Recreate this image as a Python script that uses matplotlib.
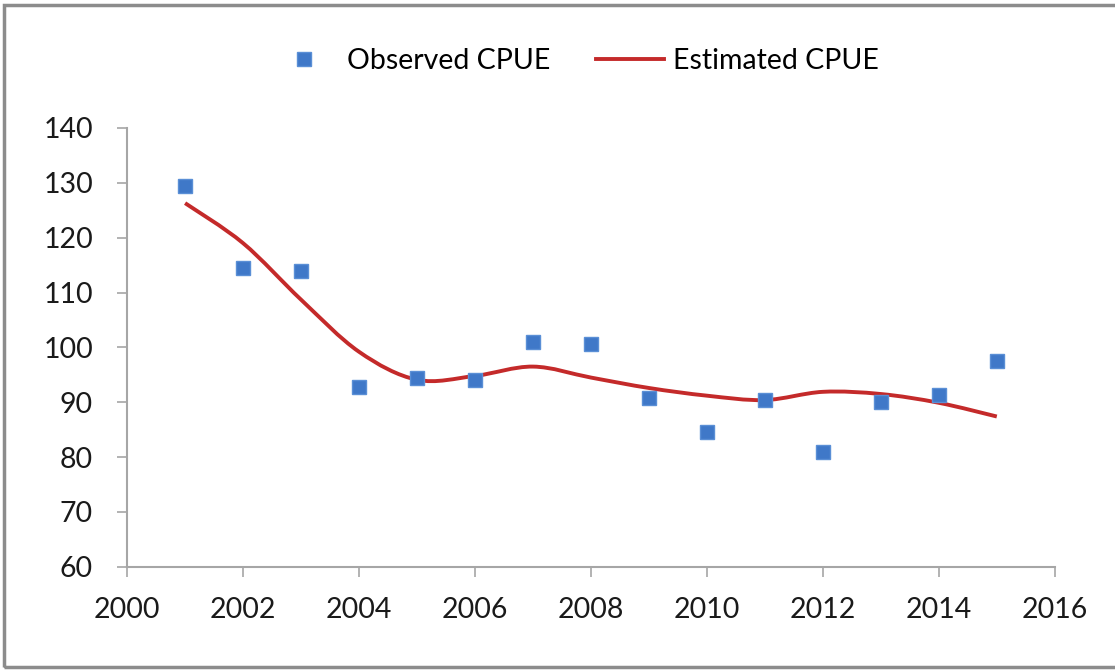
import numpy as np
import matplotlib.pyplot as plt
from matplotlib.path import Path
from matplotlib.patches import PathPatch, Rectangle
from matplotlib.lines import Line2D

years = [2001, 2002, 2003, 2004, 2005, 2006, 2007, 2008, 2009, 2010, 2011, 2012, 2013, 2014, 2015]
observed = [129.4, 114.5, 114.0, 92.8, 94.5, 94.1, 101.0, 100.7, 90.8, 84.6, 90.4, 81.0, 90.1, 91.4, 97.6]
estimated = [126.3, 119.0, 108.7, 99.2, 94.1, 94.8, 96.5, 94.5, 92.6, 91.2, 90.4, 91.9, 91.5, 89.9, 87.4]

xticks = [2000, 2002, 2004, 2006, 2008, 2010, 2012, 2014, 2016]
yticks = [60, 70, 80, 90, 100, 110, 120, 130, 140]

blue = '#3f78c8'
red = '#c42a2a'
grey = '#a6a6a6'


def smooth_path(x, y):
	# Excel style smoothed line: cubic bezier through each point
	p = np.column_stack([x, y]).astype(float)
	n = len(p)
	verts = [p[0]]
	codes = [Path.MOVETO]
	for i in range(n - 1):
		p0 = p[i - 1] if i > 0 else p[i]
		p3 = p[i + 2] if i + 2 < n else p[i + 1]
		c1 = p[i] + (p[i + 1] - p0) / 6.0
		c2 = p[i + 1] - (p3 - p[i]) / 6.0
		verts += [c1, c2, p[i + 1]]
		codes += [Path.CURVE4] * 3
	return Path(verts, codes)


plt.rcParams['font.family'] = ['Lato', 'DejaVu Sans']

fig = plt.figure(figsize=(11.15, 6.7), dpi=100)
ax = fig.add_axes([0.114, 0.154, 0.832, 0.655])

ax.add_patch(PathPatch(smooth_path(years, estimated), facecolor='none', edgecolor=red, lw=2.8, zorder=2))
ax.plot(years, observed, ls='none', marker='s', ms=10.5, color=blue, mec='#5a8fd6', zorder=3)

ax.set_xlim(2000, 2016)
ax.set_ylim(60, 140)
ax.set_xticks(xticks)
ax.set_yticks(yticks)
for s in ['top', 'right']:
	ax.spines[s].set_visible(False)
for s in ['left', 'bottom']:
	ax.spines[s].set_color(grey)
	ax.spines[s].set_linewidth(1.5)
ax.tick_params(axis='both', colors=grey, length=7.5, width=1.2, labelsize=20.5, labelcolor='#1a1a1a')
ax.tick_params(axis='x', pad=14)
ax.tick_params(axis='y', pad=17)

handles = [
	Line2D([], [], ls='none', marker='s', ms=9.5, color=blue, mec='#5a8fd6'),
	Line2D([], [], color=red, lw=2.8),
]
fig.legend(handles, ['Observed CPUE', 'Estimated CPUE'], loc='center', bbox_to_anchor=(0.515, 0.909),
	ncol=2, frameon=False, fontsize=20.5, handlelength=2.4, handletextpad=0.3, columnspacing=1.6)

fig.patches.append(Rectangle((0.004, 0.005), 1.2, 0.987, transform=fig.transFigure, fill=False,
	edgecolor='#8c8c8c', lw=2.5, zorder=0))

fig.savefig('out.png', dpi=100)
